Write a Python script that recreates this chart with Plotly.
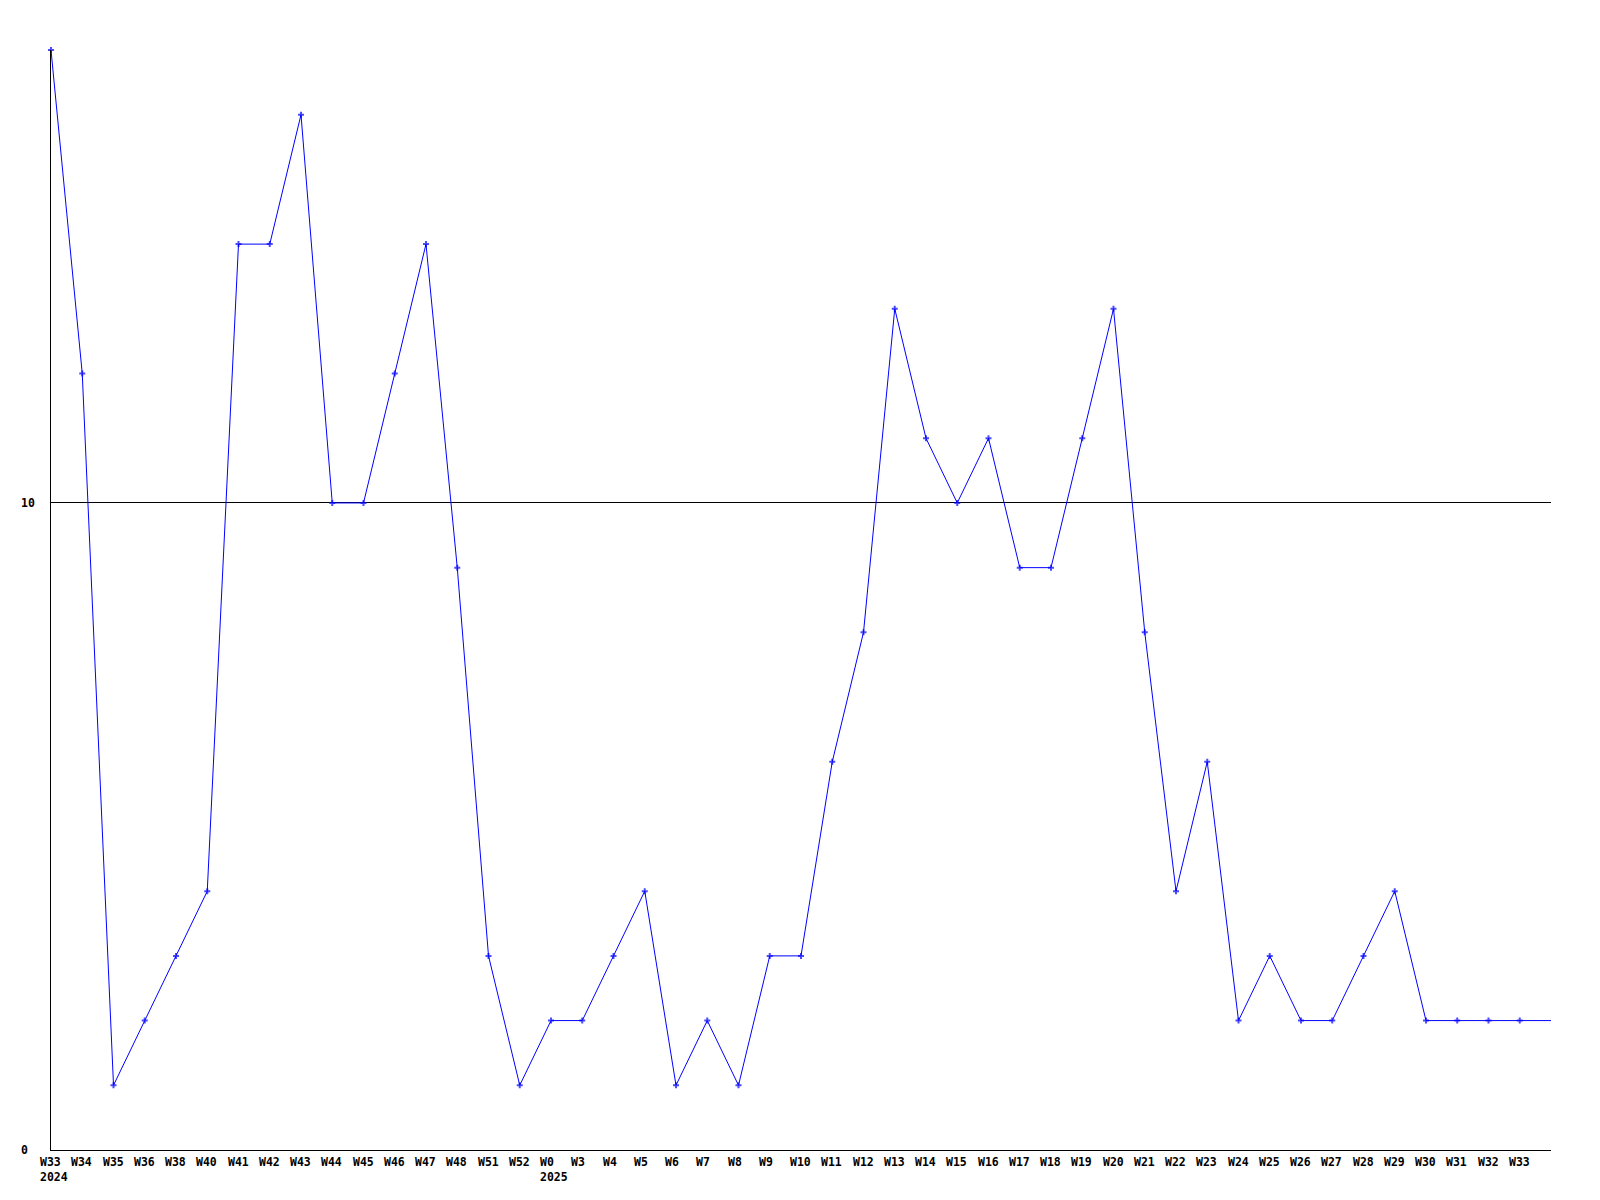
import plotly.graph_objects as go

week_labels = ["W33", "W34", "W35", "W36", "W38", "W40", "W41", "W42", "W43", "W44",
               "W45", "W46", "W47", "W48", "W51", "W52", "W0", "W3", "W4", "W5",
               "W6", "W7", "W8", "W9", "W10", "W11", "W12", "W13", "W14", "W15",
               "W16", "W17", "W18", "W19", "W20", "W21", "W22", "W23", "W24", "W25",
               "W26", "W27", "W28", "W29", "W30", "W31", "W32", "W33"]
year_labels = {0: "2024", 16: "2025"}
values = [17, 12, 1, 2, 3, 4, 14, 14, 16, 10,
          10, 12, 14, 9, 3, 1, 2, 2, 3, 4,
          1, 2, 1, 3, 3, 6, 8, 13, 11, 10,
          11, 9, 9, 11, 13, 8, 4, 6, 2, 3,
          2, 2, 3, 4, 2, 2, 2, 2]
tail_value = 2  # line continues to the right edge (current week)
y_ticks = [0, 10]

n = len(week_labels)
xs = list(range(n + 1))
ys = values + [tail_value]
sizes = [5] * n + [0]

font = dict(family="DejaVu Sans Mono", size=11.5, color="black")

fig = go.Figure()
fig.add_trace(go.Scatter(
    x=xs, y=ys, mode="lines+markers",
    line=dict(color="#0000FF", width=1),
    marker=dict(symbol="cross", size=sizes, color="#0000FF", line=dict(width=0)),
    hoverinfo="skip", showlegend=False, cliponaxis=False,
))

annotations = []
for i, lab in enumerate(week_labels):
    txt = "<b>" + lab + "</b>"
    if i in year_labels:
        txt += "<br><b>" + year_labels[i] + "</b>"
    annotations.append(dict(
        x=i, xref="x", y=0, yref="paper", text=txt, showarrow=False,
        xanchor="left", yanchor="top", align="left", xshift=-12, yshift=-4,
        font=font, borderpad=0,
    ))
for v in y_ticks:
    annotations.append(dict(
        x=0, xref="paper", y=v, yref="y", text="<b>" + str(v) + "</b>",
        showarrow=False, xanchor="left", yanchor="middle", xshift=-31,
        font=font, borderpad=0,
    ))

fig.update_layout(
    width=1584, height=1184,
    margin=dict(l=43, r=41, t=42, b=42, pad=0),
    paper_bgcolor="white", plot_bgcolor="white",
    annotations=annotations,
    xaxis=dict(range=[0, n], showgrid=False, zeroline=False, showticklabels=False,
               ticks="", showline=True, linecolor="black", linewidth=1, fixedrange=True),
    yaxis=dict(range=[0, 17], tickvals=y_ticks, showticklabels=False, ticks="",
               showgrid=True, gridcolor="black", gridwidth=1, zeroline=False,
               showline=True, linecolor="black", linewidth=1, fixedrange=True),
)

fig.write_html("out.html")
